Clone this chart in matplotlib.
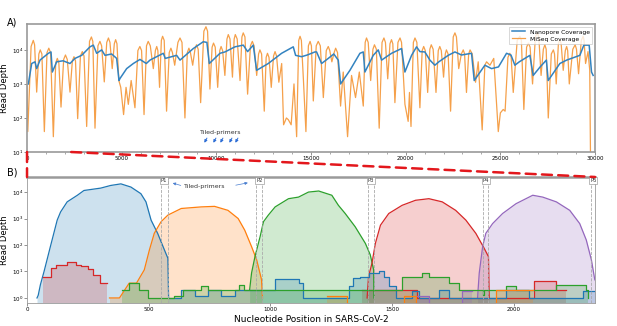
import numpy as np
import matplotlib
matplotlib.use("Agg")
import matplotlib.pyplot as plt
from matplotlib.patches import ConnectionPatch

# ---------------- Panel A data (log10 read depth) ----------------
miseq_pos = [0, 40, 215, 330, 400, 510, 625, 700, 785, 915, 1055, 1150, 1245, 1390, 1515, 1600, 1680, 1795,
             1935, 2030, 2125, 2270, 2395, 2480, 2560, 2675, 2820, 2920, 3010, 3150, 3300, 3400, 3475, 3590,
             3745, 3850, 3940, 4080, 4210, 4300, 4380, 4500, 4610, 4680, 4750, 4850, 4950, 5100, 5230, 5350,
             5500, 5700, 5855, 5960, 6050, 6180, 6310, 6400, 6510, 6670, 6780, 6850, 6910, 7000, 7095, 7160,
             7245, 7370, 7510, 7600, 7680, 7800, 7970, 8080, 8185, 8340, 8465, 8550, 8630, 8750, 8870, 8950,
             9040, 9170, 9340, 9450, 9535, 9660, 9775, 9850, 9940, 10070, 10180, 10250, 10330, 10450, 10560,
             10630, 10720, 10850, 10940, 11000, 11100, 11250, 11350, 11420, 11510, 11650, 11800, 11900, 11990,
             12130, 12230, 12300, 12390, 12530, 12630, 12700, 12780, 12900, 13020, 13100, 13180, 13300, 13450,
             13550, 13700, 13800, 13950, 14100, 14240, 14350, 14420, 14490, 14600, 14730, 14860, 14950, 15020,
             15120, 15275, 15380, 15490, 15650, 15805, 15910, 15990, 16100, 16220, 16300, 16400, 16560, 16700,
             16930, 17140, 17350, 17550, 17760, 17860, 17930, 18020, 18150, 18270, 18350, 18450, 18600, 18750,
             18850, 18930, 19050, 19170, 19250, 19320, 19430, 19590, 19700, 19780, 19900, 19960, 20130, 20200,
             20280, 20405, 20490, 20590, 20750, 20870, 20950, 21035, 21160, 21275, 21350, 21450, 21600, 21720,
             21800, 21880, 22000, 22090, 22150, 22240, 22370, 22510, 22600, 22680, 22800, 22940, 23040, 23110,
             23210, 23325, 23400, 23515, 23690, 23830, 24040, 24180, 24270, 24450, 24650, 24890, 25000, 25150,
             25250, 25400, 25500, 25570, 25680, 25890, 26030, 26110, 26240, 26385, 26480, 26570, 26700, 26850,
             26950, 27030, 27150, 27270, 27350, 27420, 27530, 27690, 27800, 27860, 27950, 28065, 28140, 28210,
             28320, 28430, 28500, 28555, 28640, 28825, 28950, 29020, 29130, 29275, 29370, 29420, 29500, 29630,
             29720, 29760]
miseq_log10 = [3.0, 1.6, 4.1, 4.28, 4.15, 2.76, 3.88, 4.0, 3.88, 1.6, 3.92, 4.05, 3.92, 1.45, 3.62, 3.75, 3.62, 2.32,
               3.72, 3.85, 3.72, 2.76, 3.68, 3.8, 3.68, 1.98, 3.82, 3.95, 3.82, 1.75, 4.25, 4.38, 4.25, 1.7,
               4.12, 4.25, 4.12, 3.06, 4.22, 4.35, 4.22, 3.45, 4.18, 4.3, 4.18, 3.1, 2.9, 2.1, 2.9, 2.4,
               3.1, 2.3, 3.98, 4.1, 3.98, 2.1, 4.12, 4.25, 4.12, 3.45, 3.98, 4.1, 3.98, 2.9, 4.28, 4.4,
               4.28, 2.2, 3.92, 4.05, 3.92, 3.55, 4.22, 4.35, 4.22, 2.0, 3.92, 4.05, 3.92, 3.55, 4.02, 4.15,
               4.02, 2.45, 4.55, 4.68, 4.55, 2.85, 4.08, 4.2, 4.08, 2.9, 3.98, 4.1, 3.98, 3.25, 4.32,
               4.45, 4.32, 3.2, 4.32, 4.45, 4.32, 3.1, 4.38, 4.5, 4.38, 2.7, 4.12, 4.25, 4.12,
               3.25, 3.88, 4.0, 3.88, 2.2, 3.78, 3.9, 3.78, 2.9, 3.82, 3.95, 3.82, 3.05, 3.6,
               1.8, 2.0, 1.95, 1.8, 3.0, 1.45, 4.28, 4.4, 4.28, 3.1, 1.6, 4.12, 4.25, 4.12,
               2.5, 4.12, 4.25, 4.12, 2.6, 3.98, 4.1, 3.98, 3.65, 3.92, 4.05, 3.92, 2.35, 3.35,
               1.45, 3.25, 2.6, 3.35, 2.35, 4.22, 4.35, 4.22, 3.1, 4.02, 4.15, 4.02, 1.7, 4.22,
               4.35, 4.22, 3.15, 4.18, 4.3, 4.18, 2.45, 4.22, 4.35, 4.22, 3.0, 2.4, 1.9, 2.75,
               1.75, 4.22, 4.35, 4.22, 2.3, 3.98, 4.1, 3.98, 2.75, 4.02, 4.15, 4.02, 2.75, 3.98,
               4.1, 3.98, 3.2, 3.88, 4.0, 3.88, 2.2, 4.38, 4.5, 4.38, 3.45, 3.88, 4.0, 3.88,
               2.75, 3.88, 4.0, 3.88, 3.05, 3.65, 1.65, 3.55, 3.65, 3.55, 3.75, 1.6, 2.15, 2.25,
               2.2, 3.78, 3.9, 3.78, 2.75, 4.28, 4.4, 4.28, 2.25, 4.08, 4.2, 4.08, 3.0, 4.38,
               4.5, 4.38, 3.25, 4.02, 4.15, 4.02, 2.0, 3.88, 4.0, 3.88, 3.0, 4.18, 4.3, 4.18,
               3.4, 3.98, 4.1, 3.98, 3.0, 4.02, 4.15, 4.02, 3.3, 4.28, 4.4, 4.28, 3.6, 3.95,
               3.4, 0.9]

nano_pos = [70, 246, 422, 510, 686, 1126, 1267, 1337, 1566, 1900, 2270, 2534, 2886, 3326, 3502, 3678,
            3942, 4118, 4470, 4734, 4857, 4910, 5262, 5614, 5966, 6300, 6494, 7198, 7300, 7902, 8080,
            8782, 9310, 9500, 9627, 10190, 10454, 10982, 11422, 11650, 11950, 12126, 12742, 13446,
            14062, 14185, 14500, 14800, 15206, 15294, 15558, 15910, 16200, 16438, 16561, 17054, 17582,
            17758, 17846, 18286, 18550, 18726, 19254, 19782, 19958, 20310, 20574, 20750, 21014, 21278,
            21542, 21750, 22246, 22598, 22950, 23478, 23619, 24182, 24534, 24900, 25326, 25560, 25766,
            26000, 26558, 26734, 27100, 27430, 27526, 28142, 28500, 29198, 29410, 29690, 29814, 29900]
nano_log10 = [3.0, 3.6, 3.65, 3.45, 3.7, 3.9, 3.94, 3.35, 3.65, 3.68, 3.6, 3.75, 3.84, 4.09, 4.14, 3.9,
              4.0, 3.84, 3.88, 3.75, 3.1, 3.16, 3.45, 3.6, 3.72, 3.6, 3.7, 3.9, 3.75, 3.84, 3.7,
              4.04, 4.24, 4.22, 3.6, 3.9, 3.94, 4.09, 4.14, 3.95, 4.14, 3.4, 3.6, 3.9,
              4.09, 3.84, 3.8, 3.85, 3.94, 3.94, 3.6, 3.75, 3.88, 3.7, 3.0, 3.4, 3.9,
              3.94, 3.35, 3.84, 4.0, 3.7, 3.9, 4.04, 3.35, 3.84, 4.09, 3.95, 3.94, 3.7,
              3.55, 3.65, 3.84, 3.94, 3.85, 3.9, 3.1, 3.55, 3.45, 3.5, 3.9, 3.85, 3.55,
              3.65, 3.84, 3.25, 3.5, 3.7, 3.1, 3.6, 3.7, 3.84, 4.14, 4.14, 3.35, 3.25]

top_arrow_pos = [9293, 9768, 10138, 10614, 10930]

# ---------------- Panel B data (log10 read depth) ----------------
amp_colors = ["#1f77b4", "#ff7f0e", "#2ca02c", "#d62728", "#9467bd"]
amp1_pos = [41, 46, 55, 70, 96, 110, 124, 138, 165, 207, 234, 303, 344, 386, 427, 468, 489, 510, 537, 565, 579, 582]
amp1_log = [0.0, 0.1, 0.5, 1.0, 1.94, 2.44, 2.94, 3.25, 3.63, 3.88, 4.06, 4.15, 4.25, 4.31, 4.19, 3.94, 3.63, 2.94, 2.44, 1.81, 1.5, 0.0]
amp2_pos = [339, 380, 420, 450, 482, 503, 523, 551, 579, 634, 716, 771, 826, 868, 895, 923, 944, 964, 968]
amp2_log = [0.0, 0.0, 0.56, 0.56, 1.06, 1.81, 2.44, 2.88, 3.13, 3.38, 3.44, 3.46, 3.31, 3.0, 2.56, 1.94, 1.44, 0.69, 0.0]
amp3_pos = [915, 923, 937, 958, 972, 992, 1020, 1075, 1116, 1157, 1199, 1253, 1280, 1308, 1349, 1391, 1411, 1425, 1426]
amp3_log = [0.3, 0.94, 1.56, 2.31, 2.88, 3.13, 3.44, 3.75, 3.81, 4.0, 4.04, 3.88, 3.5, 3.19, 2.69, 2.06, 1.63, 1.06, 0.0]
amp4_pos = [1398, 1404, 1418, 1432, 1453, 1487, 1542, 1597, 1652, 1707, 1762, 1804, 1845, 1879, 1897, 1900]
amp4_log = [0.0, 0.81, 1.31, 2.06, 2.75, 3.19, 3.5, 3.69, 3.75, 3.63, 3.31, 2.94, 2.44, 1.88, 1.56, 0.0]
amp5_pos = [1852, 1859, 1873, 1886, 1914, 1955, 2010, 2079, 2120, 2176, 2231, 2272, 2299, 2320, 2334, 2345]
amp5_log = [0.0, 0.94, 1.94, 2.44, 2.81, 3.19, 3.56, 3.88, 3.81, 3.63, 3.31, 2.81, 2.19, 1.44, 0.69, 0.55]

# low-depth step traces (left edges, log10 depth)
red_low_pos = [66, 69, 100, 120, 165, 200, 220, 250, 270, 300, 330]
red_low_log = [0.81, 0.81, 1.13, 1.25, 1.34, 1.25, 1.19, 1.1, 0.88, 0.56, 0.56]
red_late_pos = [1377, 1404, 1604, 1652, 2086, 2176, 2217]
red_late_log = [0.31, 0.31, 0.0, 0.0, 0.63, 0.31, 0.31]
blue_low_pos = [582, 633, 689, 744, 799, 854, 909, 992, 1019, 1116, 1136, 1322, 1342, 1370, 1404, 1446, 1466, 1487, 1515,
                1583, 1611, 1694, 1735, 1969, 2065, 2286, 2340]
blue_low_log = [0.0, 0.31, 0.06, 0.31, 0.06, 0.31, 0.31, 0.31, 0.71, 0.56, 0.0, 0.44, 0.75, 0.81, 0.94, 1.0, 0.81, 0.44, 0.0,
                0.25, 0.0, 0.31, 0.0, 0.31, 0.0, 0.25, 0.25]
green_low_pos = [392, 420, 462, 496, 606, 640, 716, 744, 771, 826, 870, 890, 915, 1487, 1542, 1625, 1652, 1735, 1776,
                 1873, 1880, 1969, 2010, 2176, 2299, 2306]
green_low_log = [0.31, 0.56, 0.31, 0.0, 0.06, 0.31, 0.44, 0.31, 0.31, 0.31, 0.5, 0.31, 0.3, 0.31, 0.81, 0.94, 0.81, 0.56, 0.31,
                 0.1, 0.31, 0.44, 0.31, 0.5, 0.31, 0.0]
orange_low_pos = [1232, 1315, 1549, 1597, 1928, 2079]
orange_low_log = [0.06, -0.3, 0.06, -0.3, 0.31, 0.31]
purple_low_pos = [1604, 1652, 1790, 1831]
purple_low_log = [0.06, -0.3, 0.25, 0.25]

primer_pairs = [(550, 578), (943, 968), (1400, 1425), (1875, 1897), (2317, 2340)]
primer_labels = ["P1", "P2", "P3", "P4", "P5"]

# ---------------- Figure ----------------
fig = plt.figure(figsize=(6.17, 3.26), dpi=100)
ax1 = fig.add_axes([0.0438, 0.5337, 0.9206, 0.3926])
ax2 = fig.add_axes([0.0438, 0.0706, 0.9206, 0.3865])

# Panel A
l2, = ax1.plot(miseq_pos, 10 ** np.array(miseq_log10), color="#f5a04a", lw=0.9, label="MiSeq Coverage")
l1, = ax1.plot(nano_pos, 10 ** np.array(nano_log10), color="#3383c0", lw=1.1, label="Nanopore Coverage")
ax1.set_yscale("log")
ax1.set_xlim(0, 30000)
ax1.set_ylim(10, 10 ** 4.76)
ax1.set_xticks(range(0, 30001, 5000))
ax1.set_xticks(range(0, 30001, 1000), minor=True)
ax1.set_yticks([10, 100, 1000, 10000])
ax1.tick_params(axis="both", which="major", labelsize=4, length=2, width=0.5, pad=1, color="#666666")
ax1.tick_params(axis="both", which="minor", length=1.2, width=0.4, color="#666666")
ax1.tick_params(axis="y", which="minor", length=0)
for s in ax1.spines.values():
    s.set_color("#9a9a9a")
    s.set_linewidth(1.2)
ax1.set_ylabel("Read Depth", fontsize=6, labelpad=2)
leg = ax1.legend(handles=[l1, l2], loc="upper right", fontsize=4.3, frameon=True, handlelength=2.2,
                 borderpad=0.4, labelspacing=0.3, fancybox=False, edgecolor="#bbbbbb")
leg.get_frame().set_linewidth(0.5)
ax1.text(10250, 10 ** 1.56, "Tiled-primers", fontsize=4.5, ha="center", va="center", color="#333333")
for p in top_arrow_pos:
    ax1.annotate("", xy=(p, 10 ** 1.2), xytext=(p + 280, 10 ** 1.48),
                 arrowprops=dict(arrowstyle="-|>", color="#2f6fd6", lw=0.7, mutation_scale=4))

# Panel B
ybot = 10 ** -0.19
amps = [(amp1_pos, amp1_log), (amp2_pos, amp2_log), (amp3_pos, amp3_log), (amp4_pos, amp4_log), (amp5_pos, amp5_log)]
for (px, pl), c in zip(amps, amp_colors):
    yv = 10 ** np.array(pl)
    ax2.fill_between(px, yv, ybot, color=c, alpha=0.22, lw=0)
    ax2.plot(px, yv, color=c, lw=0.9)

lows = [(red_low_pos, red_low_log, amp_colors[3]), (red_late_pos, red_late_log, amp_colors[3]),
        (blue_low_pos, blue_low_log, amp_colors[0]), (green_low_pos, green_low_log, amp_colors[2]),
        (orange_low_pos, orange_low_log, amp_colors[1]), (purple_low_pos, purple_low_log, amp_colors[4])]
for px, pl, c in lows:
    yv = 10 ** np.array(pl)
    ax2.fill_between(px, yv, ybot, step="post", color=c, alpha=0.22, lw=0)
    ax2.step(px, yv, where="post", color=c, lw=0.9)

ax2.set_yscale("log")
ax2.set_xlim(0, 2335)
ax2.set_ylim(ybot, 10 ** 4.57)
ax2.set_xticks([0, 500, 1000, 1500, 2000])
ax2.set_yticks([1, 10, 100, 1000, 10000])
ax2.tick_params(axis="both", which="major", labelsize=4, length=2, width=0.5, pad=1, color="#666666")
ax2.tick_params(axis="y", which="minor", length=0)
for name, s in ax2.spines.items():
    s.set_color("#9a9a9a")
    s.set_linewidth(0.6)
ax2.spines["top"].set_linewidth(1.8)
ax2.set_ylabel("Read Depth", fontsize=6, labelpad=2)
ax2.set_xlabel("Nucleotide Position in SARS-CoV-2", fontsize=6.5, labelpad=2)

for (a, b), lab in zip(primer_pairs, primer_labels):
    ax2.axvline(a, color="#aaaaaa", ls="--", lw=0.6)
    ax2.axvline(b, color="#aaaaaa", ls="--", lw=0.6)
    ax2.text((a + b) / 2, 10 ** 4.43, lab, fontsize=3.8, ha="center", va="center", color="#333333",
             bbox=dict(boxstyle="square,pad=0.15", fc="white", ec="#888888", lw=0.4))

ax2.text(731, 10 ** 4.2, "Tiled-primers", fontsize=4.5, ha="center", va="center", color="#333333")
ax2.annotate("", xy=(588, 10 ** 4.37), xytext=(643, 10 ** 4.22),
             arrowprops=dict(arrowstyle="-|>", color="#4a7fd0", lw=0.5, mutation_scale=4))
ax2.annotate("", xy=(919, 10 ** 4.37), xytext=(847, 10 ** 4.24),
             arrowprops=dict(arrowstyle="-|>", color="#4a7fd0", lw=0.5, mutation_scale=4))

# zoom connectors
for xa, xb in [(0, 0), (2335, 2335)]:
    con = ConnectionPatch(xyA=(xa, 10), coordsA=ax1.transData, xyB=(xb, 10 ** 4.57), coordsB=ax2.transData,
                          color="#e3171c", lw=1.8, linestyle=(0, (4, 2.5)))
    fig.add_artist(con)

fig.text(0.012, 0.93, "A)", fontsize=7, va="center")
fig.text(0.012, 0.472, "B)", fontsize=7, va="center")

fig.savefig("out.png", dpi=100)
